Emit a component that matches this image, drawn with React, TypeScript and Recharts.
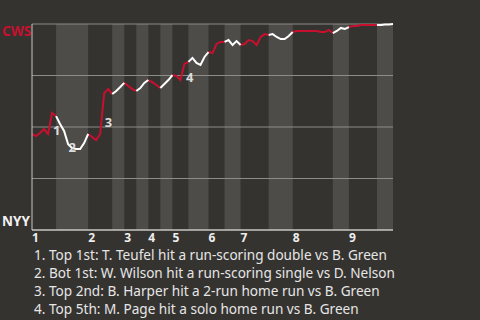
import React from "react";
import {
  ComposedChart,
  Line,
  XAxis,
  YAxis,
  ReferenceArea,
  ReferenceLine,
  ReferenceDot,
} from "recharts";

// play index where each half-inning starts (last entry = end of game)
const halfInningStarts = [0, 6, 14, 20, 23, 26, 29, 32, 35, 39, 44, 48, 52, 59, 65, 75, 79, 86, 90];
const innings = ["1", "2", "3", "4", "5", "6", "7", "8", "9"];

// CWS win probability after each play
const winProb = [
  0.466, 0.456, 0.471, 0.49, 0.466, 0.568, 0.553, 0.515, 0.481, 0.417,
  0.398, 0.393, 0.393, 0.422, 0.466, 0.451, 0.437, 0.466, 0.665, 0.684,
  0.66, 0.675, 0.694, 0.714, 0.699, 0.684, 0.675, 0.689, 0.714, 0.728,
  0.718, 0.704, 0.689, 0.709, 0.728, 0.752, 0.748, 0.728, 0.806, 0.816,
  0.835, 0.811, 0.801, 0.84, 0.864, 0.859, 0.903, 0.913, 0.913, 0.922,
  0.898, 0.917, 0.898, 0.903, 0.922, 0.917, 0.898, 0.937, 0.951, 0.947,
  0.951, 0.937, 0.927, 0.927, 0.942, 0.961, 0.966, 0.966, 0.966, 0.966,
  0.966, 0.966, 0.961, 0.961, 0.971, 0.956, 0.966, 0.981, 0.976, 0.985,
  0.99, 0.99, 0.995, 0.995, 0.995, 0.995, 0.995, 0.995, 0.998, 0.998, 1.0,
];

const gridLevels = [0.25, 0.5, 0.75, 1];

const eventPlays = [5, 9, 18, 38];
const eventTexts = [
  "Top 1st: T. Teufel hit a run-scoring double vs B. Green",
  "Bot 1st: W. Wilson hit a run-scoring single vs D. Nelson",
  "Top 2nd: B. Harper hit a 2-run home run vs B. Green",
  "Top 5th: M. Page hit a solo home run vs B. Green",
];
// label offsets from the point (px)
const labelOffsets = [
  [1, 22.5],
  [0.5, 7.5],
  [0.5, 33.5],
  [1.5, 18.5],
];

const RED = "#c8102e";
const BG = "#353330";
const BAND = "#4e4c49";
const FONT = "'Noto Sans', 'Open Sans', sans-serif";

const data = winProb.map((p, i) => {
  let top: number | null = null;
  let bottom: number | null = null;
  for (let h = 0; h < halfInningStarts.length - 1; h++) {
    if (i >= halfInningStarts[h] && i <= halfInningStarts[h + 1]) {
      if (h % 2 === 0) top = p;
      else bottom = p;
    }
  }
  return { play: i, top, bottom };
});

const inningTicks = halfInningStarts.filter((_, h) => h % 2 === 0 && h < 18);

const XTick = (props: any) => {
  const { x, y, payload } = props;
  const idx = inningTicks.indexOf(payload.value);
  return (
    <text x={x} y={y + 8} textAnchor="start" fill="#eeeeee" fontSize={12} fontWeight={700} fontFamily={FONT}>
      {innings[idx]}
    </text>
  );
};

const YTick = (props: any) => {
  const { y, payload } = props;
  const isTop = payload.value === 1;
  return (
    <text
      x={2}
      y={isTop ? y + 12 : y - 4}
      textAnchor="start"
      fill={isTop ? RED : "#f2f2f2"}
      fontSize={13.5}
      fontWeight={700}
      fontFamily={FONT}
    >
      {isTop ? "CWS" : "NYY"}
    </text>
  );
};

const App: React.FC = () => {
  return (
    <div
      style={{
        position: "absolute",
        left: 0,
        top: 0,
        width: 480,
        height: 320,
        background: BG,
        fontFamily: FONT,
      }}
    >
      <ComposedChart width={480} height={250} data={data} margin={{ top: 24, right: 87, left: 0, bottom: 0 }}>
        {halfInningStarts.slice(0, -1).map((s, h) =>
          h % 2 === 1 ? (
            <ReferenceArea
              key={"b" + h}
              x1={s}
              x2={halfInningStarts[h + 1]}
              fill={BAND}
              fillOpacity={1}
              stroke="none"
            />
          ) : null
        )}
        {gridLevels.map((g) => (
          <ReferenceLine key={"g" + g} y={g} stroke="#8e8c89" strokeWidth={1} />
        ))}
        <XAxis
          dataKey="play"
          type="number"
          domain={[0, 90]}
          ticks={inningTicks}
          interval={0}
          tick={<XTick />}
          tickLine={false}
          tickSize={0}
          tickMargin={4}
          axisLine={{ stroke: "#c9c7c4", strokeWidth: 1.5 }}
          height={20}
        />
        <YAxis
          type="number"
          domain={[0, 1]}
          ticks={[0, 1]}
          tick={<YTick />}
          tickLine={false}
          axisLine={{ stroke: "#c9c7c4", strokeWidth: 1 }}
          width={32}
        />
        <Line
          type="linear"
          dataKey="top"
          stroke={RED}
          strokeWidth={2}
          dot={false}
          connectNulls={false}
          isAnimationActive={false}
        />
        <Line
          type="linear"
          dataKey="bottom"
          stroke="#ffffff"
          strokeWidth={2}
          dot={false}
          connectNulls={false}
          isAnimationActive={false}
        />
        {eventPlays.map((p, k) => (
          <ReferenceDot
            key={"e" + k}
            x={p}
            y={winProb[p]}
            r={0}
            shape={(sp: any) => (
              <text
                x={sp.cx + labelOffsets[k][0]}
                y={sp.cy + labelOffsets[k][1]}
                fill="#dddddd"
                fontSize={13}
                fontWeight={700}
                fontFamily={FONT}
              >
                {k + 1}
              </text>
            )}
          />
        ))}
      </ComposedChart>
      <div
        style={{
          position: "absolute",
          left: 34,
          top: 245.5,
          color: "#e6e6e6",
          fontSize: 13.6,
          lineHeight: "18px",
          whiteSpace: "nowrap",
        }}
      >
        {eventTexts.map((t, k) => (
          <div key={k}>
            {k + 1}. {t}
          </div>
        ))}
      </div>
    </div>
  );
};

export default App;
